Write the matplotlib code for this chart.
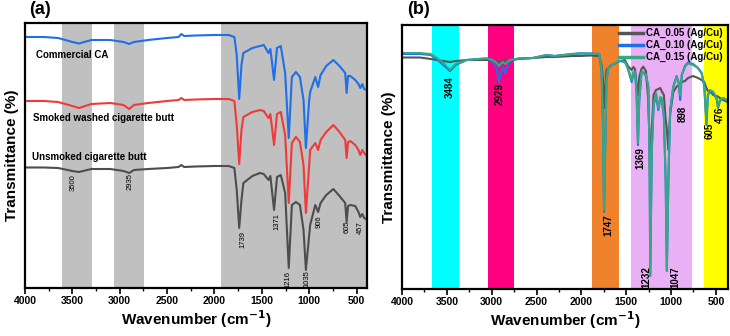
import matplotlib
matplotlib.use("Agg")
import matplotlib.pyplot as plt
from matplotlib.ticker import MultipleLocator

plt.rcParams['font.family'] = ['Liberation Sans', 'DejaVu Sans']

# ---------------- Panel (a) data ----------------
wn_a = [4000, 3800, 3650, 3500, 3430, 3300, 3100, 2960, 2900, 2850, 2700, 2500, 2380, 2350,
        2320, 2200, 2000, 1850, 1790, 1765, 1739, 1715, 1695, 1600, 1520, 1480, 1430, 1410,
        1371, 1340, 1300, 1254, 1216, 1183, 1140, 1098, 1060, 1035, 1000, 990, 936, 906, 880,
        820, 745, 680, 620, 605, 590, 567, 514, 480, 461, 440, 420, 400]
commercial_ca = [251, 251, 250, 246, 244.5, 248, 248, 246, 244, 246, 248, 250, 251, 254,
                 252, 252.5, 253, 253, 251, 233, 189, 223, 235, 240, 242, 243, 235, 239,
                 208, 240, 242, 215, 150, 211, 216, 211, 188, 140, 188, 196, 211, 201, 213,
                 222, 228, 222, 215, 195, 212, 212, 208, 204, 200, 204, 199, 198]
smoked_washed = [187, 187, 186, 182, 180, 184, 185, 183, 179, 183, 185, 187, 188, 190,
                 188, 188.5, 189, 189, 187, 163, 124, 158, 171, 176, 178, 177, 170, 174,
                 143, 174, 176, 153, 85, 145, 151, 146, 123, 75, 123, 138, 145, 138, 148,
                 156, 163, 156, 148, 130, 146, 147, 143, 138, 133, 138, 135, 133]
unsmoked = [120.5, 120.5, 120, 117, 116, 119, 119, 117, 115, 118, 119, 120, 121, 123,
            121, 121.5, 122, 122, 120, 98, 60, 88, 105, 112, 115, 114, 108, 112,
            78, 111, 113, 95, 20, 83, 86, 83, 58, 18, 53, 63, 83, 76, 85,
            93, 99, 92, 85, 66, 82, 83, 82, 76, 71, 74, 70, 69]

bands_a = [(3610, 3294), (3062, 2746), (1935, 380)]

peaks_a = ["3500", "2935", "1739", "1371", "1216", "1035", "906", "605", "457"]
peak_a_x = [3493, 2891, 1695, 1342, 1219, 1022, 892, 603, 462]
peak_a_y = [105, 106, 48, 67, 9, 9, 66, 61, 60]

names_a = ["Commercial CA", "Smoked washed cigarette butt", "Unsmoked cigarette butt"]
names_a_x = [3884, 3915, 3926]
names_a_y = [233, 170, 131]

# ---------------- Panel (b) data ----------------
wn_b = [4000, 3800, 3680, 3613, 3540, 3465, 3400, 3279, 3150, 3056, 2990, 2944, 2920, 2880,
        2850, 2800, 2700, 2540, 2387, 2300, 2200, 2100, 2016, 1900, 1800, 1775, 1760, 1747,
        1735, 1720, 1700, 1662, 1570, 1514, 1480, 1439, 1420, 1402, 1385, 1369, 1355, 1330,
        1310, 1280, 1254, 1240, 1232, 1215, 1195, 1168, 1142, 1120, 1105, 1080, 1060, 1047,
        1030, 1010, 975, 938, 915, 898, 880, 845, 811, 755, 700, 659, 630, 605, 590, 567,
        530, 492, 476, 455, 418, 381, 366]
ca_015 = [236, 236, 235, 231, 226, 219, 225, 229, 230, 230.7, 229, 226, 223, 227,
          225, 229, 230.5, 231, 234, 233, 234, 235, 235.7, 235.5, 235, 219, 169, 79,
          139, 209, 221, 224, 228.3, 227.3, 221, 209, 217, 217.3, 199, 146, 189, 217,
          217.3, 214, 204, 139, 14, 139, 184, 196, 181, 192, 191, 174, 109, 19,
          109, 179, 202.3, 212.3, 207, 194, 214, 222.3, 225.7, 224, 221, 216, 204, 166, 194, 199,
          197.3, 191, 182.3, 189, 191, 189, 190]
ca_010 = [235, 235, 234, 230, 224, 218, 224, 229, 230, 230.5, 228, 220, 207, 222,
          216, 228, 230.5, 231, 234, 233, 234, 235, 235.5, 235.5, 235, 218, 167, 77,
          137, 208, 221, 224, 228, 227, 220, 207, 216, 217, 197, 144, 188, 216,
          217, 213, 202, 137, 13, 137, 183, 194, 179, 191, 190, 172, 107, 18,
          107, 178, 202, 213, 206, 189, 214, 223, 226.5, 225, 221, 216, 203, 164, 193, 198,
          196, 190, 181, 188, 191, 188, 189]
ca_005 = [231.5, 231.5, 230, 229, 228, 227, 228, 229, 229, 229, 229, 227.5, 227, 228,
          228, 229, 230, 231, 232, 232, 232.5, 233, 233, 233.5, 233, 224, 210, 181,
          200, 219, 221, 224, 228, 229, 223, 219, 222, 220, 205, 194, 212, 220,
          222.3, 218, 189, 150, 99, 159, 194, 199, 200, 201, 198, 194, 169, 160,
          139, 175, 197, 202.3, 204, 205, 207, 208, 211, 213, 211, 209, 207, 201, 198, 198,
          194, 193, 192.3, 191, 189, 187.3, 189]

bands_b = [(3660, 3360, '#00ffff'), (3043, 2754, '#ff0080'), (1883, 1576, '#f0822c'),
           (1452, 771, '#eab0f6'), (630, 350, '#ffff00')]

peaks_b = ["3484", "2929", "1747", "1369", "1232", "1047", "898", "605", "476"]
peak_b_x = [3465, 2907, 1700, 1347, 1272, 956, 864, 567, 455]
peak_b_y = [201.5, 195, 64, 131, 12, 12, 175, 158, 174]

series_b_names = ["CA_0.05 (Ag/Cu)", "CA_0.10 (Ag/Cu)", "CA_0.15 (Ag/Cu)"]

W, H = 730, 336
fig = plt.figure(figsize=(W / 100, H / 100), dpi=100)


def px_axes(left, top, right, bottom):
    return fig.add_axes([left / W, 1 - bottom / H, (right - left) / W, (bottom - top) / H])


def style(ax):
    for s in ax.spines.values():
        s.set_linewidth(1.6)
    ax.set_yticks([])
    ax.xaxis.set_major_locator(MultipleLocator(500))
    ax.xaxis.set_minor_locator(MultipleLocator(250))
    ax.tick_params(axis='x', which='major', direction='out', length=4, width=1.2,
                   labelsize=7.5, pad=1.5)
    ax.tick_params(axis='x', which='minor', direction='out', length=2.5, width=1.0)
    for lab in ax.get_xticklabels():
        lab.set_fontweight('bold')
    ax.set_xlabel("Wavenumber (cm$^{\\mathbf{-1}}$)", fontsize=11, fontweight='bold', labelpad=2)
    ax.set_ylabel("Transmittance (%)", fontsize=11, fontweight='bold', labelpad=4)


# ---- (a)
ax1 = px_axes(25, 23, 367, 288)
for lo, hi in bands_a:
    ax1.axvspan(lo, hi, color='#c0c0c0', lw=0, zorder=0)
ax1.plot(wn_a, commercial_ca, color='#1f6fe8', lw=1.5)
ax1.plot(wn_a, smoked_washed, color='#f03a3a', lw=1.5)
ax1.plot(wn_a, unsmoked, color='#4d4d4d', lw=1.5)
ax1.set_xlim(4000, 390)
ax1.set_ylim(0, 265)
style(ax1)
for t, x, y in zip(names_a, names_a_x, names_a_y):
    ax1.text(x, y, t, fontsize=7, fontweight='bold', ha='left', va='center')
for t, x, y in zip(peaks_a, peak_a_x, peak_a_y):
    ax1.text(x, y, t, fontsize=5.5, rotation=90, ha='center', va='center')
fig.text(40 / W, 1 - 10 / H, "(a)", fontsize=13, fontweight='bold', ha='center', va='center')

# ---- (b)
ax2 = px_axes(402, 25, 728, 289)
for lo, hi, c in bands_b:
    ax2.axvspan(lo, hi, color=c, lw=0, zorder=0)
ax2.plot(wn_b, ca_005, color='#555555', lw=1.5, label=series_b_names[0])
ax2.plot(wn_b, ca_010, color='#1f6fe8', lw=1.5, label=series_b_names[1])
ax2.plot(wn_b, ca_015, color='#36a883', lw=1.5, label=series_b_names[2])
ax2.set_xlim(4000, 365)
ax2.set_ylim(0, 264)
style(ax2)
for t, x, y in zip(peaks_b, peak_b_x, peak_b_y):
    ax2.text(x, y, t, fontsize=7, fontweight='bold', rotation=90, ha='center', va='center')
leg = ax2.legend(loc='upper right', bbox_to_anchor=(1.0, 1.01), frameon=False, fontsize=7,
                 handlelength=2.4, handletextpad=0.3, labelspacing=0.2, borderaxespad=0.2)
for t in leg.get_texts():
    t.set_fontweight('bold')
for l in leg.get_lines():
    l.set_linewidth(2.5)
fig.text(419 / W, 1 - 10 / H, "(b)", fontsize=13, fontweight='bold', ha='center', va='center')

fig.savefig("out.png", dpi=100)
